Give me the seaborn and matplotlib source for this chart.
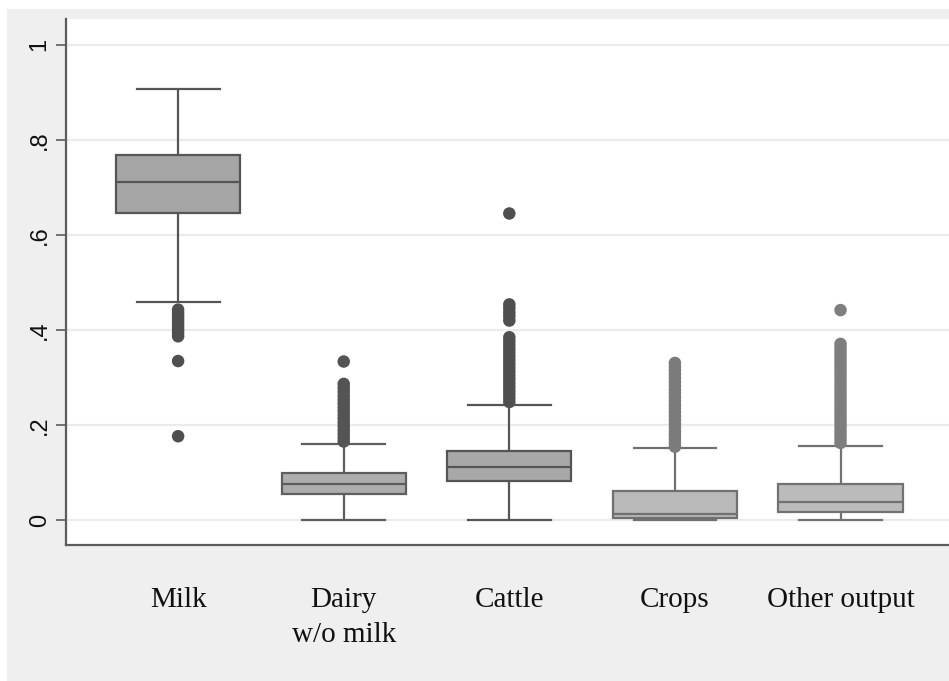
import numpy as np
import pandas as pd
import matplotlib
matplotlib.use("Agg")
import matplotlib.pyplot as plt
from matplotlib.patches import Rectangle
import seaborn as sns

# ---- data ----
categories = ["Milk", "Dairy\nw/o milk", "Cattle", "Crops", "Other output"]
whisker_low = [0.459, 0.0, 0.0, 0.0, 0.0]
q1 = [0.647, 0.056, 0.084, 0.005, 0.0185]
median = [0.711, 0.077, 0.112, 0.013, 0.0395]
q3 = [0.768, 0.099, 0.147, 0.062, 0.076]
whisker_high = [0.9065, 0.160, 0.243, 0.153, 0.157]

outliers_milk = [0.443, 0.436, 0.429, 0.422, 0.415, 0.408, 0.401, 0.394, 0.387,
                 0.335, 0.177]
outliers_dairy = [0.334, 0.287, 0.279, 0.271, 0.262, 0.254, 0.246, 0.238, 0.230,
                  0.222, 0.214, 0.206, 0.198, 0.190, 0.182, 0.174, 0.166]
outliers_cattle = [0.645, 0.454, 0.446, 0.437, 0.429, 0.420, 0.385, 0.377, 0.369,
                   0.361, 0.353, 0.345, 0.337, 0.329, 0.321, 0.313, 0.305, 0.297,
                   0.289, 0.281, 0.273, 0.265, 0.257, 0.249]
outliers_crops = [0.331, 0.323, 0.315, 0.307, 0.299, 0.291, 0.283, 0.275, 0.267,
                  0.259, 0.251, 0.243, 0.235, 0.227, 0.219, 0.211, 0.203, 0.195,
                  0.187, 0.179, 0.171, 0.163, 0.155]
outliers_other = [0.442, 0.371, 0.363, 0.355, 0.347, 0.339, 0.331, 0.323, 0.315,
                  0.307, 0.299, 0.291, 0.283, 0.275, 0.267, 0.259, 0.251, 0.243,
                  0.235, 0.227, 0.219, 0.211, 0.203, 0.195, 0.187, 0.179, 0.171,
                  0.163]

y_ticks = [0, 0.2, 0.4, 0.6, 0.8, 1.0]
y_ticklabels = ["0", ".2", ".4", ".6", ".8", "1"]

# ---- styles ----
box_fill = ["#a5a5a5", "#adadad", "#a8a8a8", "#b9b9b9", "#bbbbbb"]
line_col = ["#555555", "#5e5e5e", "#555555", "#707070", "#727272"]
dot_col = ["#4f4f4f", "#545454", "#4f4f4f", "#7b7b7b", "#7e7e7e"]

# ---- tables ----
box_rows = []
for i, c in enumerate(categories):
    for v in (whisker_low[i], q1[i], median[i], q3[i], whisker_high[i]):
        box_rows.append({"category": c, "value": v})
box_df = pd.DataFrame(box_rows)

out_lists = [outliers_milk, outliers_dairy, outliers_cattle, outliers_crops, outliers_other]
out_rows = []
for c, lst in zip(categories, out_lists):
    for v in lst:
        out_rows.append({"category": c, "value": v})
out_df = pd.DataFrame(out_rows)

W, H = 949, 681
fig = plt.figure(figsize=(W / 100, H / 100), dpi=100, facecolor="white")
fig.add_artist(Rectangle((7 / W, 0), 1, (H - 9) / H, transform=fig.transFigure,
                         facecolor="#efefef", edgecolor="none", zorder=-10))
ax = fig.add_axes([66 / W, 1 - 545 / H, 1 - 66 / W, (545 - 19) / H])
ax.set_facecolor("white")

for i, c in enumerate(categories):
    sub = box_df[box_df["category"] == c]
    sns.boxplot(data=sub, x="category", y="value", order=categories, ax=ax,
                whis=(0, 100), width=0.75, color=box_fill[i], linecolor=line_col[i],
                linewidth=1.6, saturation=1, showfliers=False, capwidths=0.5)

sns.stripplot(data=out_df, x="category", y="value", order=categories,
              hue="category", hue_order=categories, palette=dot_col,
              jitter=False, size=9, linewidth=0, legend=False, ax=ax, zorder=3)

ax.set_xlim(-0.677, 4.655)
ax.set_ylim(-0.0515, 1.0536)
ax.set_yticks(y_ticks)
ax.set_yticklabels(y_ticklabels, rotation=90, fontfamily="Liberation Sans",
                   fontsize=17, va="center")
ax.set_xticks(range(len(categories)))
ax.set_xticklabels(categories, fontfamily="Liberation Serif", fontsize=21)
for t in ax.get_xticklabels():
    t.set_linespacing(1.45)
ax.set_xlabel("")
ax.set_ylabel("")

ax.yaxis.grid(True, color="#ebebeb", linewidth=1.6)
ax.xaxis.grid(False)
ax.set_axisbelow(True)

for s in ("top", "right"):
    ax.spines[s].set_visible(False)
for s in ("left", "bottom"):
    ax.spines[s].set_color("#5c5c5c")
    ax.spines[s].set_linewidth(1.6)

ax.tick_params(axis="y", length=7, width=1.2, color="#5c5c5c", pad=4,
               labelcolor="#111111")
ax.tick_params(axis="x", length=0, pad=30.5, labelcolor="#111111")

fig.savefig("out.png", dpi=100, facecolor="white")
